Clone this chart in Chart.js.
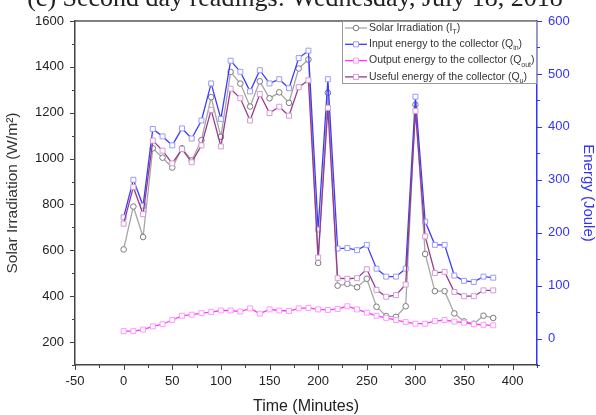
<!DOCTYPE html>
<html>
<head>
<meta charset="utf-8">
<script src="https://cdn.jsdelivr.net/npm/chart.js@4.4.1/dist/chart.umd.min.js"></script>
<style>
    html, body { margin: 0; padding: 0; background: #fff; }
    #wrap { width: 596px; height: 415px; }
</style>
</head>
<body>
<div id="wrap"><canvas id="energyChart" width="596" height="415"></canvas></div>
<script>
// Time axis (minutes) and the four measured series
var minutes = [0, 10, 20, 30, 40, 50, 60, 70, 80, 90, 100, 110, 120, 130, 140, 150, 160, 170, 180, 190,
    200, 210, 220, 230, 240, 250, 260, 270, 280, 290, 300, 310, 320, 330, 340, 350, 360, 370, 380];

var irradiation = [604, 791, 658, 1045, 1004, 961, 1045, 992, 1080, 1268, 1095, 1378, 1327, 1227, 1337, 1263, 1289, 1243, 1393, 1432,
    545, 1287, 446, 454, 439, 476, 354, 313, 310, 356, 1235, 584, 422, 422, 325, 290, 280, 315, 305];

var energyIn = [229, 300, 251, 396, 382, 365, 397, 378, 412, 482, 415, 525, 504, 467, 507, 482, 490, 473, 530, 544,
    206, 490, 170, 171, 167, 177, 132, 117, 117, 132, 457, 221, 177, 177, 119, 109, 107, 117, 115];

var energyOut = [14, 14, 17, 23, 27, 35, 43, 45, 48, 50, 53, 53, 51, 57, 47, 55, 53, 52, 57, 58,
    55, 54, 56, 61, 55, 49, 43, 39, 35, 31, 28, 28, 33, 35, 32, 30, 27, 26, 25];

var energyUseful = [217, 286, 235, 374, 355, 331, 358, 333, 365, 432, 363, 472, 454, 412, 462, 426, 438, 421, 475, 488,
    153, 436, 114, 113, 114, 131, 92, 79, 82, 102, 430, 193, 124, 126, 88, 80, 80, 91, 91];

var xTicks = [-50, 0, 50, 100, 150, 200, 250, 300, 350, 400];
var irrTicks = [200, 400, 600, 800, 1000, 1200, 1400, 1600];
var energyTicks = [0, 100, 200, 300, 400, 500, 600];

var chartTitle = '(c) Second day readings: Wednesday, July 18, 2018';
var legendItems = [
    { text: 'Solar Irradiation (I', sub: 'T', color: '#a6a6a6', marker: '#7a7a7a', style: 'circle' },
    { text: 'Input energy to the collector (Q', sub: 'in', color: '#3c3cff', marker: '#9a9aff', style: 'rect' },
    { text: 'Output energy to the collector (Q', sub: 'out', color: '#ff33ff', marker: '#ff99ff', style: 'rect' },
    { text: 'Useful energy of the collector (Q', sub: 'u', color: '#973a8f', marker: '#d49bd4', style: 'rect' }
];

function toPoints(values) {
    return values.map(function (v, i) { return { x: minutes[i], y: v }; });
}

function fixedTicks(list) {
    return function (scale) {
        scale.ticks = list.map(function (v) { return { value: v }; });
    };
}

function plainNumber(v) {
    return String(v); // no thousands separator
}

function drawMarker(ctx, style, x, y, color) {
    ctx.fillStyle = '#fff';
    ctx.strokeStyle = color;
    ctx.lineWidth = 1;
    ctx.beginPath();
    if (style === 'circle') {
        ctx.arc(x, y, 2.8, 0, Math.PI * 2);
    } else {
        ctx.rect(x - 2.5, y - 2.5, 5, 5);
    }
    ctx.fill();
    ctx.stroke();
}

// frame, outward major/minor ticks, inset legend and the clipped caption
var decorations = {
    id: 'decorations',
    afterDraw: function (chart) {
        var ctx = chart.ctx;
        var area = chart.chartArea;
        var sx = chart.scales.x, sy = chart.scales.y, sy1 = chart.scales.y1;
        var v, p, len;
        ctx.save();

        ctx.strokeStyle = '#555';
        ctx.lineWidth = 1.5;
        ctx.beginPath();
        ctx.moveTo(area.left, area.top);
        ctx.lineTo(area.right, area.top);
        ctx.stroke();

        ctx.lineWidth = 1;
        ctx.strokeStyle = '#444';
        ctx.beginPath();
        for (v = -50; v <= 425; v += 25) {
            p = Math.round(sx.getPixelForValue(v)) + 0.5;
            len = v % 50 === 0 ? 5 : 3;
            ctx.moveTo(p, area.bottom);
            ctx.lineTo(p, area.bottom + len);
        }
        for (v = 100; v <= 1600; v += 100) {
            p = Math.round(sy.getPixelForValue(v)) + 0.5;
            len = v % 200 === 0 ? 5 : 3;
            ctx.moveTo(area.left, p);
            ctx.lineTo(area.left - len, p);
        }
        ctx.stroke();

        ctx.strokeStyle = '#3333ff';
        ctx.beginPath();
        for (v = -50; v <= 600; v += 50) {
            p = Math.round(sy1.getPixelForValue(v)) + 0.5;
            len = v % 100 === 0 ? 5 : 3;
            ctx.moveTo(area.right, p);
            ctx.lineTo(area.right + len, p);
        }
        ctx.stroke();

        // legend box in the top right corner
        var bw = 195, bh = 63;
        var bx = area.right - bw, by = area.top;
        ctx.fillStyle = '#fff';
        ctx.fillRect(bx, by, bw, bh);
        ctx.strokeStyle = '#9a9a9a';
        ctx.lineWidth = 1;
        ctx.strokeRect(bx + 0.5, by + 0.5, bw - 1, bh - 1);
        legendItems.forEach(function (item, i) {
            var ly = by + 7 + i * 16.3;
            ctx.strokeStyle = item.color;
            ctx.lineWidth = 1.3;
            ctx.beginPath();
            ctx.moveTo(bx + 3, ly);
            ctx.lineTo(bx + 25, ly);
            ctx.stroke();
            drawMarker(ctx, item.style, bx + 14, ly, item.marker);
            ctx.fillStyle = '#333';
            ctx.textBaseline = 'middle';
            ctx.textAlign = 'left';
            ctx.font = '10.5px "Liberation Sans", Arial, sans-serif';
            ctx.fillText(item.text, bx + 27, ly);
            var w = ctx.measureText(item.text).width;
            ctx.font = '7px "Liberation Sans", Arial, sans-serif';
            ctx.fillText(item.sub, bx + 27 + w, ly + 4);
            var ws = ctx.measureText(item.sub).width;
            ctx.font = '10.5px "Liberation Sans", Arial, sans-serif';
            ctx.fillText(')', bx + 27 + w + ws, ly);
        });

        // caption sits mostly above the top edge, as in the cropped figure
        ctx.fillStyle = '#222';
        ctx.textAlign = 'center';
        ctx.textBaseline = 'alphabetic';
        ctx.font = '26px "Liberation Serif", "Times New Roman", serif';
        ctx.fillText(chartTitle, 295, 6);
        ctx.restore();
    }
};

Chart.defaults.font.family = '"Liberation Sans", Arial, sans-serif';

var ctx = document.getElementById('energyChart').getContext('2d');
var energyChart = new Chart(ctx, {
    type: 'line',
    data: {
        datasets: [{
            label: 'Useful energy of the collector',
            data: toPoints(energyUseful),
            yAxisID: 'y1',
            borderColor: '#973a8f',
            pointBorderColor: '#d49bd4',
            pointStyle: 'rect',
            pointRadius: 3.5,
            order: 1
        }, {
            label: 'Output energy to the collector',
            data: toPoints(energyOut),
            yAxisID: 'y1',
            borderColor: '#ff33ff',
            pointBorderColor: '#ff99ff',
            pointStyle: 'rect',
            pointRadius: 3.5,
            order: 2
        }, {
            label: 'Input energy to the collector',
            data: toPoints(energyIn),
            yAxisID: 'y1',
            borderColor: '#3c3cff',
            pointBorderColor: '#9a9aff',
            pointStyle: 'rect',
            pointRadius: 3.5,
            order: 3
        }, {
            label: 'Solar Irradiation',
            data: toPoints(irradiation),
            yAxisID: 'y',
            borderColor: '#a6a6a6',
            pointBorderColor: '#7a7a7a',
            pointStyle: 'circle',
            pointRadius: 2.8,
            order: 4
        }]
    },
    options: {
        responsive: false,
        animation: false,
        layout: { padding: { top: 21 } },
        elements: {
            line: { borderWidth: 1.3, tension: 0 },
            point: { backgroundColor: '#fff', borderWidth: 1 }
        },
        plugins: {
            legend: { display: false },
            tooltip: { enabled: false }
        },
        scales: {
            x: {
                type: 'linear',
                position: 'bottom',
                min: -50,
                max: 425,
                afterBuildTicks: fixedTicks(xTicks),
                afterFit: function (s) { s.height = 50; },
                grid: { display: false, drawTicks: false },
                border: { display: true, color: '#444', width: 1.5 },
                ticks: { color: '#222', font: { size: 13 }, padding: 9, maxRotation: 0, autoSkip: false, callback: plainNumber },
                title: {
                    display: true,
                    text: 'Time (Minutes)',
                    color: '#222',
                    font: { size: 16, lineHeight: 1 },
                    padding: { top: 0, bottom: 0 }
                }
            },
            y: {
                position: 'left',
                min: 100,
                max: 1600,
                afterBuildTicks: fixedTicks(irrTicks),
                afterFit: function (s) { s.width = 75; },
                grid: { display: false, drawTicks: false },
                border: { display: true, color: '#444', width: 1.5 },
                ticks: { color: '#222', font: { size: 13 }, padding: 11, callback: plainNumber },
                title: {
                    display: true,
                    text: 'Solar Irradiation (W/m²)',
                    color: '#333',
                    font: { size: 15.5 },
                    padding: { top: 3, bottom: 0 }
                }
            },
            y1: {
                position: 'right',
                min: -50,
                max: 600,
                afterBuildTicks: fixedTicks(energyTicks),
                afterFit: function (s) { s.width = 59; },
                grid: { display: false, drawTicks: false },
                border: { display: true, color: '#3333ff', width: 1.5 },
                ticks: { color: '#3333ff', font: { size: 13 }, padding: 11, callback: plainNumber },
                title: {
                    display: true,
                    text: 'Energy (Joule)',
                    color: '#3333ff',
                    font: { size: 15, lineHeight: 1 },
                    padding: { top: 0, bottom: 0 }
                }
            }
        }
    },
    plugins: [decorations]
});
</script>
</body>
</html>
